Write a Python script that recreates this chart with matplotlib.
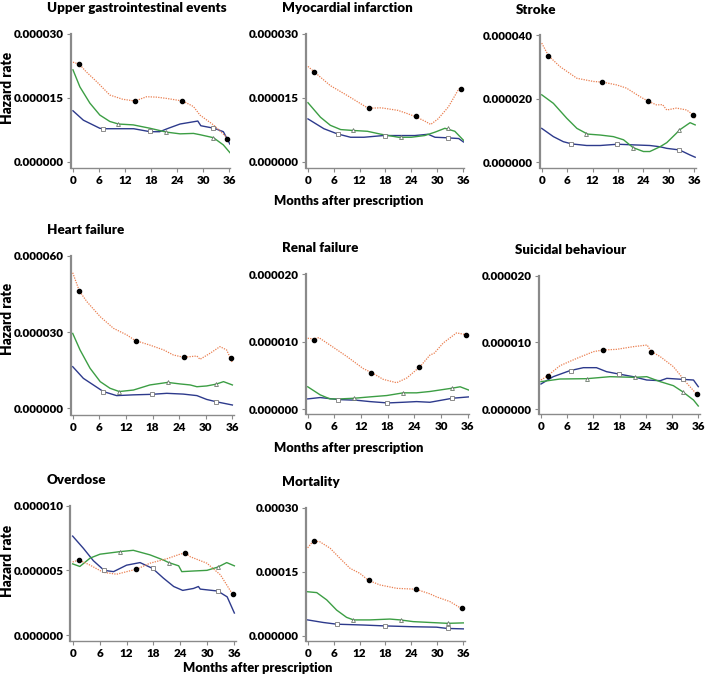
import matplotlib.pyplot as plt

plt.rcParams['font.family'] = ['Lato', 'DejaVu Sans']
plt.rcParams['font.weight'] = 'heavy'

# hazard rates in units of 1e-6
months = [0, 6, 12, 18, 24, 30, 36]
orange_mark_x = [1.5, 14.2, 25.1, 35.6]
blue_mark_x = [6.9, 17.8, 32.4]
green_mark_x = [10.5, 21.5, 32.4]

# Upper gastrointestinal events
gi_orange_x = [0, 1.5, 3, 5.5, 8.5, 11.5, 14.3, 17, 19.3, 21.6, 25.3, 27.8, 29.3, 32.4, 36]
gi_orange_y = [23.4, 22.9, 21.2, 18.8, 15.7, 14.7, 14.3, 15.3, 15.2, 14.9, 14.3, 13.0, 11.0, 8.7, 5.3]
gi_green_x = [0, 1.6, 3.9, 6.2, 8.5, 10.5, 13.9, 17.8, 21.6, 24.7, 27.8, 29.3, 32.4, 34.7, 36.2]
gi_green_y = [21.6, 17.6, 13.8, 11.0, 9.5, 8.9, 8.7, 7.9, 7.0, 6.6, 6.7, 6.4, 5.7, 4.0, 2.2]
gi_blue_x = [0, 2.4, 6.2, 7, 14, 17.8, 20, 22, 24.7, 28.8, 29.5, 32.6, 34.7, 36.2]
gi_blue_y = [12.0, 9.8, 7.9, 7.8, 7.8, 7.1, 7.1, 7.9, 8.9, 9.6, 8.5, 7.9, 7.1, 4.2]
gi_marks = ([22.9, 14.3, 14.3, 5.3], [7.8, 7.2, 7.9], [8.9, 7.0, 5.7])

# Myocardial infarction
mi_orange_x = [0, 1.6, 5.2, 9.1, 13, 14, 17, 20.9, 23.2, 24.8, 27.1, 28.5, 30.2, 32.6, 35, 35.7]
mi_orange_y = [22.4, 21.0, 17.9, 15.6, 13.2, 12.6, 12.7, 12.1, 11.3, 10.7, 9.6, 8.8, 10.1, 12.9, 17.1, 17.5]
mi_green_x = [0, 2.9, 5.2, 7.6, 10.3, 13.8, 17, 21, 24, 27.1, 29.5, 31.8, 34.1, 36.1]
mi_green_y = [13.9, 10.5, 8.6, 7.6, 7.4, 7.2, 6.5, 5.8, 5.8, 6.2, 7.0, 7.9, 7.2, 5.1]
mi_blue_x = [0, 3.7, 6.8, 9.9, 13, 17.5, 20.9, 24.8, 27.9, 29.5, 31.8, 35, 36.1]
mi_blue_y = [10.1, 7.8, 6.6, 5.8, 5.8, 6.2, 6.2, 6.2, 6.5, 5.8, 5.7, 5.5, 4.7]
mi_marks = ([21.0, 12.6, 10.7, 17.1], [6.6, 6.2, 5.7], [7.4, 5.8, 7.9])

# Stroke
st_orange_x = [0, 1.6, 4.3, 8.3, 12.2, 14.4, 17.7, 20, 23.2, 25.2, 27.1, 28.5, 29.5, 31.8, 34.2, 35.8, 36.2]
st_orange_y = [37.6, 33.6, 30.2, 26.5, 25.5, 25.3, 24.4, 23.4, 20.7, 19.2, 18.1, 18.2, 16.5, 17.1, 16.5, 14.9, 13.9]
st_green_x = [0, 2.75, 5.9, 8.3, 10.8, 13.8, 16.9, 19.3, 21.6, 24, 25.5, 27.9, 29.5, 31.8, 32.5, 35, 36.2]
st_green_y = [21.3, 18.6, 13.9, 10.7, 8.9, 8.6, 8.1, 7.1, 4.6, 3.4, 3.4, 4.9, 6.2, 9.2, 10.2, 12.5, 11.8]
st_blue_x = [0, 2.75, 5.1, 7.1, 10.6, 13.8, 17.9, 21.6, 25.5, 27.9, 29.5, 32.5, 35, 36.2]
st_blue_y = [10.7, 8.1, 6.5, 5.8, 5.3, 5.3, 5.7, 5.5, 5.3, 4.9, 4.4, 3.9, 2.3, 1.6]
st_marks = ([33.6, 25.3, 19.2, 14.9], [5.8, 5.7, 3.9], [8.9, 4.6, 10.2])

# Heart failure
hf_orange_x = [0, 1.5, 3.2, 6.2, 9.2, 12.2, 14.1, 17.4, 20.5, 22.7, 25, 28, 28.7, 31, 33.2, 34.7, 35.5, 36]
hf_orange_y = [53.4, 46.2, 42.0, 36.1, 31.5, 28.9, 26.7, 24.9, 23.0, 21.0, 20.1, 20.6, 19.3, 21.7, 24.3, 23.0, 20.0, 18.0]
hf_green_x = [0, 1.65, 3.9, 6.2, 8.4, 10.5, 13.7, 17.4, 21.4, 24.2, 26.5, 28, 30.2, 32.3, 34, 36]
hf_green_y = [29.5, 23.0, 15.8, 10.5, 7.9, 6.6, 7.2, 9.2, 10.2, 9.6, 9.2, 8.5, 8.8, 9.5, 10.5, 9.2]
hf_blue_x = [0, 2.4, 6.9, 9.9, 13.7, 17.8, 21.2, 24.9, 28, 30.2, 32.3, 36]
hf_blue_y = [16.4, 11.8, 6.6, 5.0, 5.3, 5.5, 5.9, 5.6, 5.0, 3.5, 2.6, 1.3]
hf_marks = ([46.2, 26.7, 20.1, 20.0], [6.6, 5.5, 2.6], [6.6, 10.2, 9.5])

# Renal failure
rf_orange_x = [0, 1.4, 2.5, 5, 8.8, 12.5, 14.4, 17, 20, 22.3, 25.3, 27.5, 28.5, 30.5, 33.5, 35.9]
rf_orange_y = [10.5, 10.4, 10.6, 9.5, 7.8, 6.0, 5.4, 4.4, 3.9, 4.6, 6.3, 8.0, 8.3, 9.8, 11.3, 11.0]
rf_green_x = [0, 2.8, 5, 7.3, 10.5, 14, 17.8, 21.5, 24.5, 27.5, 32.6, 34.3, 36.3]
rf_green_y = [3.3, 2.1, 1.5, 1.5, 1.6, 1.8, 2.0, 2.4, 2.4, 2.6, 3.1, 3.3, 2.8]
rf_blue_x = [0, 2.8, 6.9, 11, 14, 18, 21.5, 24.5, 27.5, 32.6, 36.3]
rf_blue_y = [1.5, 1.7, 1.4, 1.3, 1.1, 0.9, 1.0, 1.1, 1.0, 1.6, 1.8]
rf_marks = ([10.2, 5.4, 6.3, 11.0], [1.4, 0.9, 1.6], [1.6, 2.4, 3.1])

# Suicidal behaviour
sb_orange_x = [0, 1.45, 4.35, 8.2, 12, 14.1, 17.3, 21.1, 24.3, 25.1, 27.3, 30.3, 33.4, 35.6, 36]
sb_orange_y = [4.35, 4.95, 6.5, 7.6, 8.6, 8.85, 8.95, 9.35, 9.6, 8.7, 7.85, 6.35, 3.85, 2.25, 1.85]
sb_green_x = [0, 4.35, 10.5, 15.8, 21.4, 24.2, 27.3, 30.3, 32.4, 34.9, 36]
sb_green_y = [4.1, 4.5, 4.55, 4.85, 4.75, 4.85, 4.1, 3.5, 2.6, 1.35, 0.45]
sb_blue_x = [0, 2.8, 6.6, 9.7, 12.7, 15, 17.8, 21.1, 24.2, 27.3, 28.8, 32.3, 34.9, 36]
sb_blue_y = [3.75, 4.85, 5.75, 6.2, 6.2, 5.6, 5.25, 4.85, 4.35, 4.25, 4.6, 4.45, 4.35, 3.35]
sb_marks = ([4.95, 8.85, 8.6, 2.25], [5.75, 5.25, 4.45], [4.55, 4.75, 2.6])

# Overdose
od_orange_x = [0, 1.4, 3.9, 6.8, 9.8, 14.3, 17.2, 21, 23.9, 25.1, 26.2, 29.9, 32.9, 35.6, 36]
od_orange_y = [5.65, 5.8, 5.4, 4.85, 4.7, 5.1, 5.55, 5.9, 6.25, 6.35, 6.05, 5.55, 4.65, 3.15, 2.95]
od_green_x = [0, 1.6, 3.9, 6.1, 10.6, 13.5, 17.2, 20.2, 21.4, 23.6, 24.3, 26.9, 29.9, 32.3, 34.3, 36]
od_green_y = [5.5, 5.3, 5.95, 6.25, 6.45, 6.55, 6.2, 5.8, 5.6, 5.35, 4.9, 4.95, 5.0, 5.25, 5.6, 5.35]
od_blue_x = [0, 2.4, 4.6, 7, 9.1, 12, 15, 17.8, 20.2, 22.5, 24.5, 26.9, 28, 28.4, 32.3, 34.4, 36]
od_blue_y = [7.65, 6.7, 5.75, 5.0, 4.9, 5.4, 5.6, 5.15, 4.4, 3.75, 3.45, 3.6, 3.75, 3.55, 3.4, 2.95, 1.7]
od_marks = ([5.8, 5.1, 6.35, 3.15], [5.0, 5.15, 3.4], [6.45, 5.6, 5.25])

# Mortality
mo_orange_x = [0, 1.3, 2.85, 5.2, 7.5, 9.8, 12.1, 14, 16.7, 20.6, 25, 28.3, 29.8, 32.9, 35.5, 36]
mo_orange_y = [206, 222, 220, 205, 181, 158, 146, 130, 119, 111, 109, 98, 91, 80, 64, 60]
mo_green_x = [0, 2.1, 4.4, 6.7, 9, 10.6, 14.4, 19, 21.4, 24.4, 28.3, 32.4, 36]
mo_green_y = [103, 101, 84, 60, 43, 37, 37, 39, 37, 33, 31, 29, 30]
mo_blue_x = [0, 3.6, 6.7, 12.9, 17.7, 24.4, 29.8, 32.3, 36]
mo_blue_y = [37, 31, 27, 25, 23, 21, 20, 17, 16]
mo_marks = ([222, 130, 109, 64], [27, 23, 17], [37, 37, 29])

W, H = 708, 676
fig = plt.figure(figsize=(W / 100, H / 100), dpi=100)

ORANGE = '#ea7f50'
GREEN = '#3c9e44'
BLUE = '#2d3a8c'
GREY = '#8a8a8a'

# title, ymax, tick labels, data, pixel box (left, top, zero, right, bottom)
panels = [
    ('Upper gastrointestinal events', 30, ['0.000000', '0.000015', '0.000030'],
     (gi_orange_x, gi_orange_y, gi_green_x, gi_green_y, gi_blue_x, gi_blue_y), gi_marks,
     (70.8, 34, 162, 230.3, 168)),
    ('Myocardial infarction', 30, ['0.000000', '0.000015', '0.000030'],
     (mi_orange_x, mi_orange_y, mi_green_x, mi_green_y, mi_blue_x, mi_blue_y), mi_marks,
     (305.8, 34, 162, 464.3, 168)),
    ('Stroke', 40, ['0.000000', '0.000020', '0.000040'],
     (st_orange_x, st_orange_y, st_green_x, st_green_y, st_blue_x, st_blue_y), st_marks,
     (539.6, 35.5, 162.3, 695.6, 168)),
    ('Heart failure', 60, ['0.000000', '0.000030', '0.000060'],
     (hf_orange_x, hf_orange_y, hf_green_x, hf_green_y, hf_blue_x, hf_blue_y), hf_marks,
     (70.5, 256, 408.3, 233.7, 415)),
    ('Renal failure', 20, ['0.000000', '0.000010', '0.000020'],
     (rf_orange_x, rf_orange_y, rf_green_x, rf_green_y, rf_blue_x, rf_blue_y), rf_marks,
     (305.5, 274.3, 409, 469, 414)),
    ('Suicidal behaviour', 20, ['0.000000', '0.000010', '0.000020'],
     (sb_orange_x, sb_orange_y, sb_green_x, sb_green_y, sb_blue_x, sb_blue_y), sb_marks,
     (538.8, 275.7, 409, 699.6, 414)),
    ('Overdose', 10, ['0.000000', '0.000005', '0.000010'],
     (od_orange_x, od_orange_y, od_green_x, od_green_y, od_blue_x, od_blue_y), od_marks,
     (70.4, 505.7, 635, 235.7, 641)),
    ('Mortality', 300, ['0.000000', '0.00015', '0.00030'],
     (mo_orange_x, mo_orange_y, mo_green_x, mo_green_y, mo_blue_x, mo_blue_y), mo_marks,
     (305.5, 507.7, 635.7, 464.6, 641)),
]

for title, ymax, ylabels, data, marks, box in panels:
    left, top, zero, right, bottom = box
    ax = fig.add_axes([left / W, 1 - bottom / H, (right - left) / W, (bottom - top) / H])
    ox, oy, gx, gy, bx, by = data
    ax.plot(bx, by, color=BLUE, lw=1.0, zorder=2)
    ax.plot(gx, gy, color=GREEN, lw=1.0, zorder=2)
    ax.plot(ox, oy, color=ORANGE, lw=0.9, ls=(0, (1, 1)), zorder=3)
    ax.plot(orange_mark_x, marks[0], 'o', ms=3, color='black', zorder=4)
    ax.plot(blue_mark_x, marks[1], 's', ms=2.4, mfc='white', mec='#7a7a7a', mew=0.6, zorder=4)
    ax.plot(green_mark_x, marks[2], '^', ms=2.8, mfc='white', mec='#6a776a', mew=0.6, zorder=4)

    ylow = -ymax * (bottom - zero) / (zero - top)
    ax.set_ylim(ylow, ymax)
    ax.set_xlim(-0.5, 36.3)
    ax.set_yticks([0, ymax / 2, ymax])
    ax.set_yticklabels(ylabels)
    ax.set_xticks(months)
    for s in ['top', 'right']:
        ax.spines[s].set_visible(False)
    ax.spines['left'].set_color(GREY)
    ax.spines['left'].set_linewidth(1.6)
    ax.spines['bottom'].set_color(GREY)
    ax.spines['bottom'].set_linewidth(1.0)
    ax.tick_params(direction='out', length=3, width=0.8, color=GREY, labelsize=8.4, pad=2)
    for lab in ax.get_xticklabels() + ax.get_yticklabels():
        lab.set_fontweight('heavy')

    fig.text((left - 23.5) / W, 1 - (top - 22) / H, title, fontsize=9.6, fontweight='heavy',
             ha='left', va='baseline')

# shared axis labels
for yb in [205, 451.7]:
    fig.text(349 / W, 1 - yb / H, 'Months after prescription', fontsize=9.3, fontweight='heavy',
             ha='center', va='baseline')
fig.text(258 / W, 1 - 672 / H, 'Months after prescription', fontsize=9.3, fontweight='heavy',
         ha='center', va='baseline')
for yc in [88, 319, 561]:
    fig.text(7.5 / W, 1 - yc / H, 'Hazard rate', fontsize=9.8, fontweight='heavy',
             rotation=90, ha='center', va='center')

fig.savefig('out.png', dpi=100)
